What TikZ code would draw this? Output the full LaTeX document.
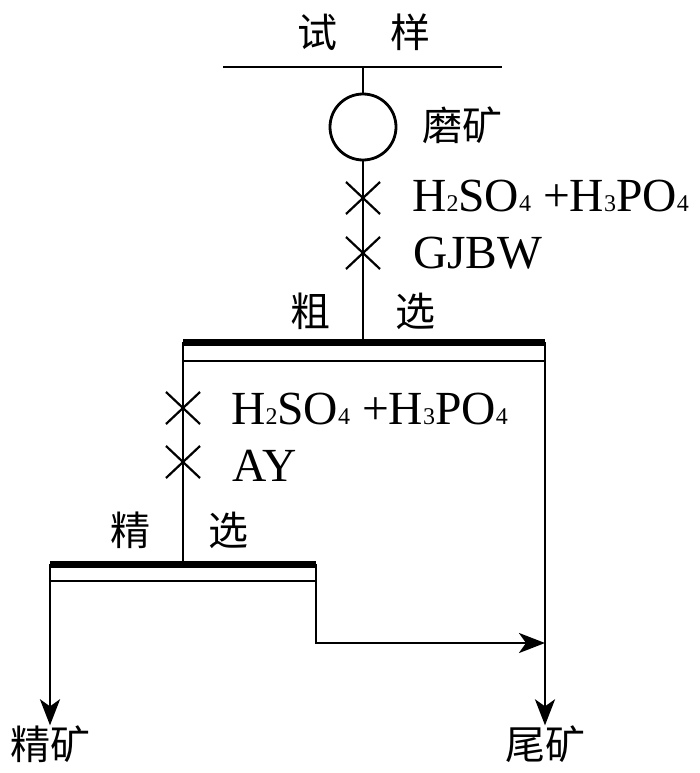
\documentclass[tikz,border=0pt]{standalone}
\usepackage{fontspec}
\setmainfont{Liberation Serif}
\newfontfamily\cjk{Noto Sans CJK SC}
\usetikzlibrary{arrows.meta}
\newcommand\chemsub[1]{{\fontsize{24}{24}\selectfont #1}}
\begin{document}
\begin{tikzpicture}[x=1pt,y=-1pt,
  line/.style={line width=2.8pt},
  bar/.style={line width=7pt},
  arr/.style={line width=2.8pt,-{Stealth[length=26pt,width=20pt,inset=7pt]}},
  cn/.style={font=\cjk\fontsize{40}{42}\selectfont,inner sep=0pt},
  lat/.style={font=\fontsize{47.5}{50}\selectfont,inner sep=0pt,anchor=base west},
  crossmark/.style={line width=2.2pt}]
\useasboundingbox (0,0) rectangle (700,773);
% labels
\node[cn] (shi) at (317,32) {试};
\node[cn] (yang) at (410,32) {样};
\node[cn] (mokuang) at (462,125) {磨矿};
\node[cn] (cu) at (310,311) {粗};
\node[cn] (xuan1) at (415,311) {选};
\node[cn] (jing) at (130,530) {精};
\node[cn] (xuan2) at (228,530) {选};
\node[cn] (jingkuang) at (50,744) {精矿};
\node[cn] (weikuang) at (545,744) {尾矿};
\node[lat] (r1) at (412,211) {H\chemsub{2}SO\chemsub{4} +H\chemsub{3}PO\chemsub{4}};
\node[lat] (r2) at (413,268) {GJBW};
\node[lat] (r3) at (231,424) {H\chemsub{2}SO\chemsub{4} +H\chemsub{3}PO\chemsub{4}};
\node[lat] (r4) at (232,481) {AY};
% feed line and mill
\coordinate (feedL) at (223,67);
\coordinate (feedR) at (502,67);
\coordinate (feedM) at (363,67);
\draw[line] (feedL) -- (feedR);
\node[circle,draw,line width=2.8pt,minimum size=66pt,inner sep=0pt] (mill) at (363,127) {};
\draw[line] (feedM) -- (mill.north);
% rougher bar
\coordinate (rL) at (183,342);
\coordinate (rR) at (545,342);
\coordinate (rM) at (363,342);
\coordinate (rLt) at (183,361);
\coordinate (rRt) at (545,361);
\draw[line] (mill.south) -- (rM);
\draw[bar] (rL) -- (rR);
\draw[line] (rLt) -- (rRt);
% cleaner bar
\coordinate (cL) at (50,564);
\coordinate (cR) at (316,564);
\coordinate (cM) at (183,564);
\coordinate (cLt) at (50,581);
\coordinate (cRt) at (316,581);
\draw[line] (rL) -- (cM);
\draw[bar] (cL) -- (cR);
\draw[line] (cLt) -- (cRt);
% crosses
\foreach \x/\y in {363/198, 363/253, 183/408, 183/462}{
  \draw[crossmark] (\x-17,\y-16) -- (\x+17,\y+16);
  \draw[crossmark] (\x-17,\y+16) -- (\x+17,\y-16);
}
% outputs
\coordinate (bend) at (316,643);
\coordinate (join) at (545,643);
\draw[arr] (cR) -- (bend) -- (join);
\draw[arr] (rR) -- (weikuang.north);
\draw[arr] (cL) -- (jingkuang.north);
\end{tikzpicture}
\end{document}
